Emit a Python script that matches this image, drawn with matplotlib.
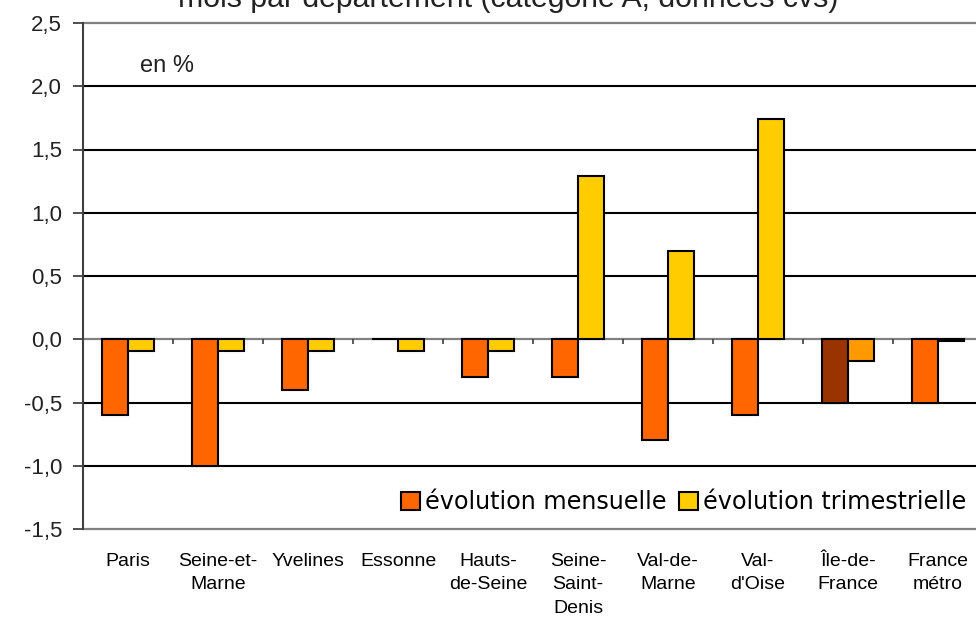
import numpy as np
import matplotlib
matplotlib.use("Agg")
import matplotlib.pyplot as plt
from matplotlib.patches import Patch

# données
departements = ["Paris", "Seine-et-\nMarne", "Yvelines", "Essonne", "Hauts-\nde-Seine",
                "Seine-\nSaint-\nDenis", "Val-de-\nMarne", "Val-\nd'Oise", "Île-de-\nFrance",
                "France\nmétro"]
evol_mensuelle = [-0.6, -1.0, -0.4, 0.0, -0.3, -0.3, -0.8, -0.6, -0.5, -0.5]
evol_trimestrielle = [-0.09, -0.09, -0.09, -0.09, -0.09, 1.29, 0.7, 1.74, -0.17, -0.01]
yticks = [-1.5, -1.0, -0.5, 0.0, 0.5, 1.0, 1.5, 2.0, 2.5]

c_mens = "#FF6600"
c_trim = "#FFCC00"
c_mens_idf = "#993300"
c_trim_idf = "#FF9900"

fig = plt.figure(figsize=(9.76, 6.19), dpi=100)
W, H = 976, 619
# le bord droit de la zone de tracé sort de l'image, comme dans l'original
ax = fig.add_axes([83 / W, 1 - 529 / H, 900 / W, (529 - 23) / H])

x = np.arange(len(departements))
w = 0.29
col_m = [c_mens_idf if d.startswith("Île") else c_mens for d in departements]
col_t = [c_trim_idf if d.startswith("Île") else c_trim for d in departements]
col_t = ["black" if abs(v) < 0.02 else c for v, c in zip(evol_trimestrielle, col_t)]
ax.bar(x - w / 2, evol_mensuelle, w, color=col_m, edgecolor="black", linewidth=1.5, zorder=3)
ax.bar(x + w / 2, evol_trimestrielle, w, color=col_t, edgecolor="black", linewidth=1.5, zorder=3)

ax.set_xlim(-0.5, len(departements) - 0.5)
ax.set_ylim(-1.5, 2.5)

# grille horizontale (bords et zéro en gris)
for t in yticks:
    if t in (-1.5, 0.0, 2.5):
        ax.axhline(t, color="#808080", lw=1.6, zorder=2, clip_on=False)
    else:
        ax.axhline(t, color="black", lw=1.5, zorder=2)

# petites graduations sur la ligne zéro
bounds = np.arange(len(departements) + 1) - 0.5
ax.vlines(bounds[1:-1], -0.035, 0, color="#404040", lw=1.2, zorder=2)

for s in ["top", "right", "bottom"]:
    ax.spines[s].set_visible(False)
ax.spines["left"].set_color("#404040")
ax.spines["left"].set_linewidth(1.5)
ax.spines["left"].set_zorder(4)

ax.set_yticks(yticks)
ax.set_yticklabels([f"{t:.1f}".replace(".", ",") for t in yticks],
                   fontsize=16, family="Liberation Sans", color="#222222")
ax.tick_params(axis="y", length=7, width=1.3, color="#404040", pad=8)

ax.set_xticks(x)
ax.set_xticklabels(departements, fontsize=14, family="Liberation Sans", linespacing=1.5)
ax.tick_params(axis="x", length=0, pad=17)

ax.text(57 / 900, (529 - 72) / 506, "en %", transform=ax.transAxes, fontsize=17,
        family="Liberation Sans", color="#222222", va="baseline")

fig.text(508 / W, 1 - 7 / H, "mois par département (catégorie A, données cvs)",
         ha="center", va="baseline", fontsize=21.8, family="Liberation Sans", color="#222222")

handles = [Patch(facecolor=c_mens, edgecolor="black", lw=1.5),
           Patch(facecolor=c_trim, edgecolor="black", lw=1.5)]
fig.legend(handles, ["évolution mensuelle", "évolution trimestrielle"], ncol=2,
           loc="center right", bbox_to_anchor=(966 / W, 1 - 502 / H), frameon=False,
           prop={"family": "DejaVu Sans", "size": 17.2}, handlelength=0.78, handleheight=0.78,
           handletextpad=0.2, columnspacing=0.55, borderaxespad=0, borderpad=0)

fig.savefig("out.png", dpi=100)
